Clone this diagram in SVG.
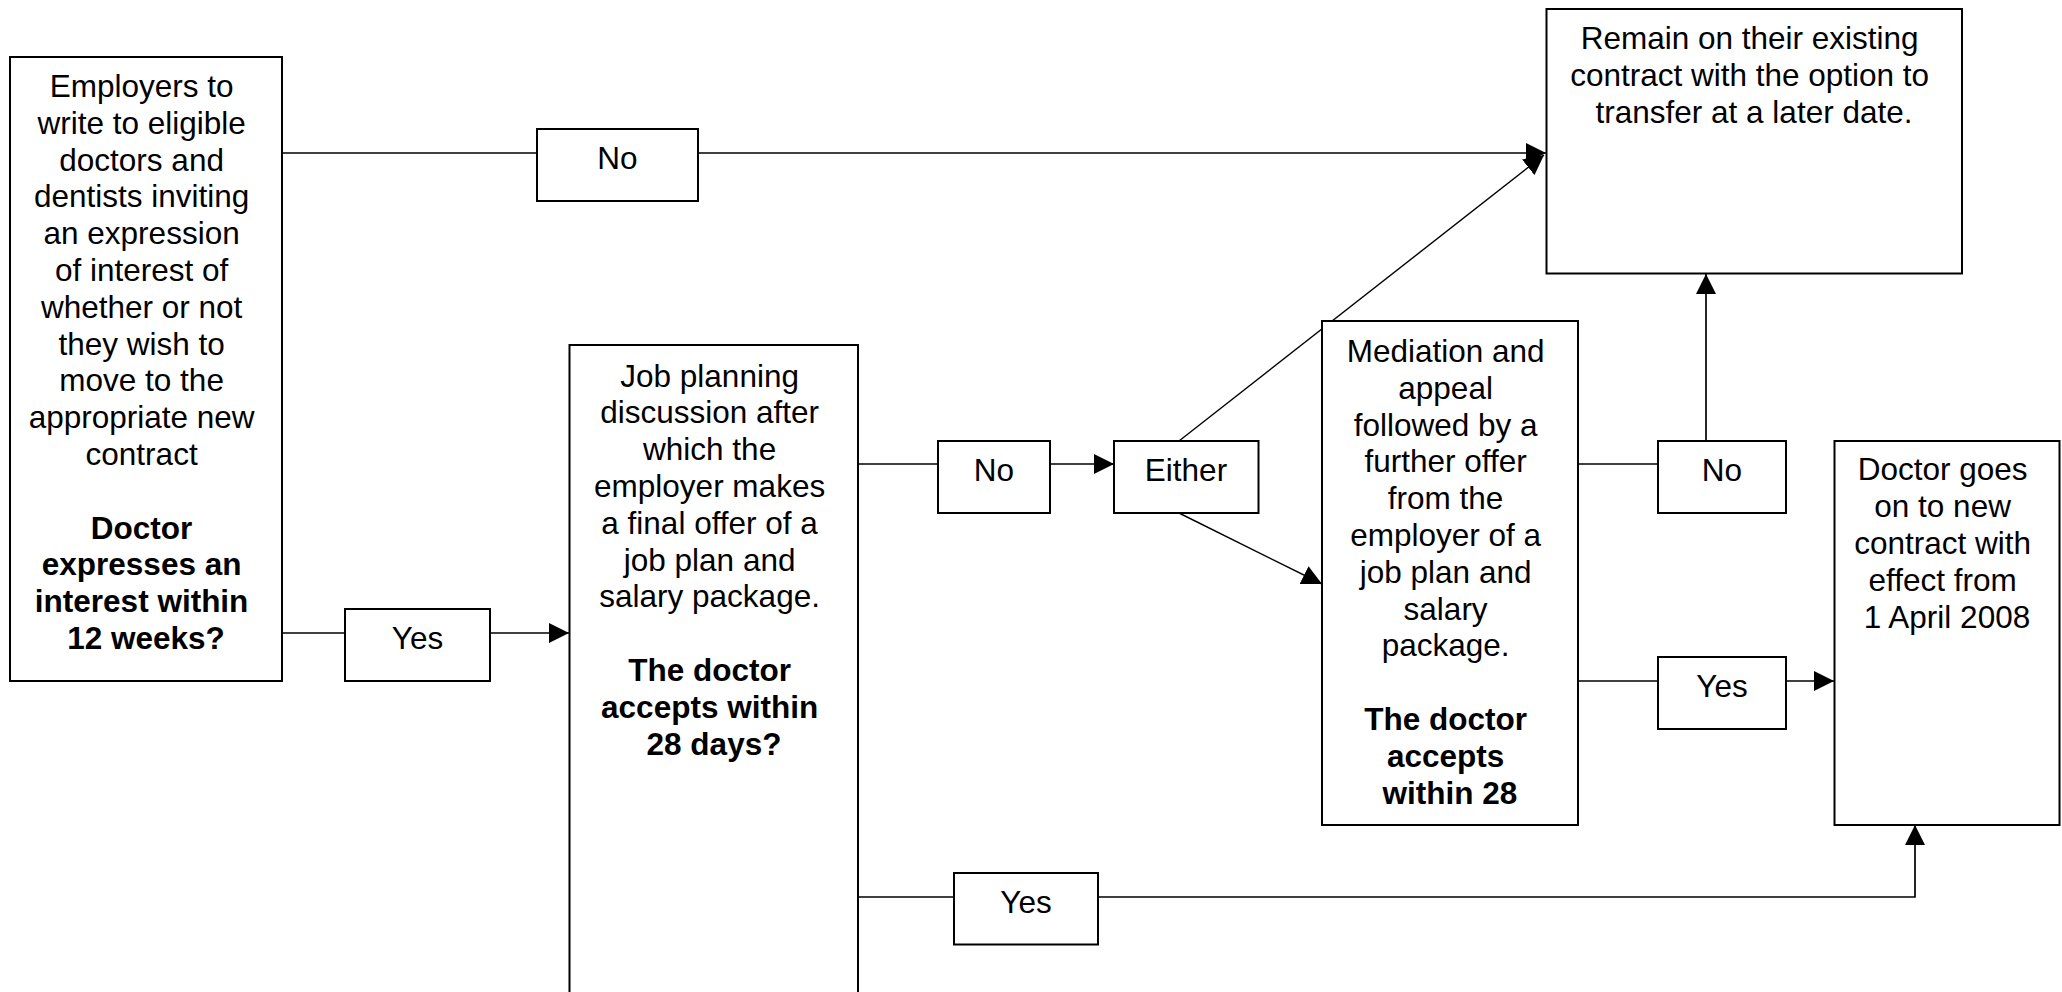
<svg xmlns="http://www.w3.org/2000/svg" width="2062" height="992" viewBox="0 0 2062 992">
<defs>
<marker id="ah" markerWidth="20" markerHeight="20" refX="20" refY="10" orient="auto" markerUnits="userSpaceOnUse">
<path d="M0,0 L20,10 L0,20 Z" fill="#000"/>
</marker>
<style>
.box{fill:#fff;stroke:#000;stroke-width:2}
.t{font-family:"Liberation Sans",Arial,sans-serif;font-size:31.5px;fill:#000;text-anchor:middle}
.b{font-weight:bold}
.c{fill:none;stroke:#000;stroke-width:1.7}
.ca{fill:none;stroke:#000;stroke-width:1.7;marker-end:url(#ah)}
.d{stroke-width:1.4}
</style>
</defs>
<rect width="2062" height="992" fill="#fff"/>
<g id="connectors">
<line class="c" x1="282" y1="153" x2="537" y2="153"/>
<line class="ca" x1="698" y1="153" x2="1546" y2="153"/>
<line class="c" x1="282" y1="633" x2="345" y2="633"/>
<line class="ca" x1="490" y1="633" x2="569" y2="633"/>
<line class="c" x1="858" y1="464" x2="938" y2="464"/>
<line class="ca" x1="1050" y1="464" x2="1114" y2="464"/>
<line class="ca d" x1="1179" y1="441" x2="1544" y2="155"/>
<line class="ca d" x1="1179" y1="513" x2="1322" y2="584"/>
<line class="c" x1="1578" y1="464" x2="1658" y2="464"/>
<line class="ca" x1="1706" y1="441" x2="1706" y2="274"/>
<line class="c" x1="1578" y1="681" x2="1658" y2="681"/>
<line class="ca" x1="1786" y1="681" x2="1834" y2="681"/>
<line class="c" x1="858" y1="897" x2="954" y2="897"/>
<polyline class="ca" points="1098,897 1915,897 1915,825"/>
</g>
<g id="node-employers">
<rect class="box" x="10" y="57" width="272" height="624"/>
<text class="t">
<tspan x="146" y="97">Employers to</tspan>
<tspan x="146" y="133.8">write to eligible</tspan>
<tspan x="146" y="170.6">doctors and</tspan>
<tspan x="146" y="207.4">dentists inviting</tspan>
<tspan x="146" y="244.2">an expression</tspan>
<tspan x="146" y="281">of interest of</tspan>
<tspan x="146" y="317.8">whether or not</tspan>
<tspan x="146" y="354.6">they wish to</tspan>
<tspan x="146" y="391.4">move to the</tspan>
<tspan x="146" y="428.2">appropriate new</tspan>
<tspan x="146" y="465">contract</tspan>
<tspan class="b" x="146" y="538.6">Doctor</tspan>
<tspan class="b" x="146" y="575.4">expresses an</tspan>
<tspan class="b" x="146" y="612.2">interest within</tspan>
<tspan class="b" x="146" y="649">12 weeks?</tspan>
</text>
</g>
<g id="node-no-top">
<rect class="box" x="537" y="129" width="161" height="72"/>
<text class="t" x="617.5" y="169">No</text>
</g>
<g id="node-yes-left">
<rect class="box" x="345" y="609" width="145" height="72"/>
<text class="t" x="417.5" y="649">Yes</text>
</g>
<g id="node-jobplanning">
<rect class="box" x="569.5" y="345" width="288.5" height="700"/>
<text class="t">
<tspan x="714" y="386.5">Job planning</tspan>
<tspan x="714" y="423.3">discussion after</tspan>
<tspan x="714" y="460.1">which the</tspan>
<tspan x="714" y="496.9">employer makes</tspan>
<tspan x="714" y="533.7">a final offer of a</tspan>
<tspan x="714" y="570.5">job plan and</tspan>
<tspan x="714" y="607.3">salary package.</tspan>
<tspan class="b" x="714" y="680.9">The doctor</tspan>
<tspan class="b" x="714" y="717.7">accepts within</tspan>
<tspan class="b" x="714" y="754.5">28 days?</tspan>
</text>
</g>
<g id="node-no-mid">
<rect class="box" x="938" y="441" width="112" height="72"/>
<text class="t" x="994" y="481">No</text>
</g>
<g id="node-either">
<rect class="box" x="1114" y="441" width="144.5" height="72"/>
<text class="t" x="1186" y="481">Either</text>
</g>
<g id="node-yes-bottom">
<rect class="box" x="954" y="873" width="144" height="71.5"/>
<text class="t" x="1026" y="913">Yes</text>
</g>
<g id="node-remain">
<rect class="box" x="1546.5" y="9" width="415.5" height="264.5"/>
<text class="t">
<tspan x="1754" y="49">Remain on their existing</tspan>
<tspan x="1754" y="86.3">contract with the option to</tspan>
<tspan x="1754" y="123.3">transfer at a later date.</tspan>
</text>
</g>
<g id="node-mediation">
<rect class="box" x="1322" y="321" width="256" height="504"/>
<text class="t">
<tspan x="1450" y="362">Mediation and</tspan>
<tspan x="1450" y="398.8">appeal</tspan>
<tspan x="1450" y="435.6">followed by a</tspan>
<tspan x="1450" y="472.4">further offer</tspan>
<tspan x="1450" y="509.2">from the</tspan>
<tspan x="1450" y="546">employer of a</tspan>
<tspan x="1450" y="582.8">job plan and</tspan>
<tspan x="1450" y="619.6">salary</tspan>
<tspan x="1450" y="656.4">package.</tspan>
<tspan class="b" x="1450" y="730">The doctor</tspan>
<tspan class="b" x="1450" y="766.8">accepts</tspan>
<tspan class="b" x="1450" y="803.6">within 28</tspan>
</text>
</g>
<g id="node-no-right">
<rect class="box" x="1658" y="441" width="128" height="72"/>
<text class="t" x="1722" y="481">No</text>
</g>
<g id="node-yes-right">
<rect class="box" x="1658" y="657" width="128" height="72"/>
<text class="t" x="1722" y="697">Yes</text>
</g>
<g id="node-doctor">
<rect class="box" x="1834.5" y="441" width="225" height="384"/>
<text class="t">
<tspan x="1947" y="480">Doctor goes</tspan>
<tspan x="1947" y="517">on to new</tspan>
<tspan x="1947" y="554">contract with</tspan>
<tspan x="1947" y="591">effect from</tspan>
<tspan x="1947" y="628">1 April 2008</tspan>
</text>
</g>
</svg>
